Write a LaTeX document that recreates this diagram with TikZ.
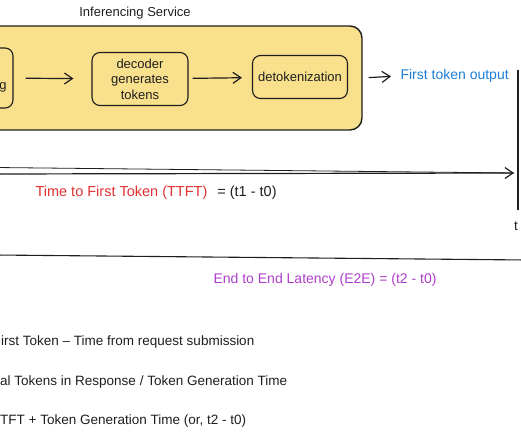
\documentclass[tikz,border=0pt]{standalone}
\usepackage{fontspec}
\setmainfont{Liberation Sans}
\usetikzlibrary{arrows.meta}
\definecolor{svcyellow}{HTML}{F9E08C}
\definecolor{ink}{HTML}{1E1E1E}
\definecolor{ttftred}{HTML}{E03131}
\definecolor{outblue}{HTML}{1C7ED6}
\definecolor{etepurple}{HTML}{AE3EC9}
\begin{document}
\begin{tikzpicture}[x=1pt,y=-1pt,
    >={Straight Barb[length=8pt,width=11pt]},
    every node/.style={font=\fontsize{13}{15.5}\selectfont, text=ink},
    service/.style={draw=ink, line width=1.4pt, fill=svcyellow, rounded corners=12pt},
    stage/.style={draw=ink, line width=1.1pt, rounded corners=8pt, align=center},
    flow/.style={->, draw=ink, line width=1.2pt},
    rule/.style={draw=ink, line width=1.1pt},
    big/.style={font=\fontsize{14}{16}\selectfont},
    note/.style={anchor=west, inner sep=0pt, font=\fontsize{13.5}{16}\selectfont}]
  \useasboundingbox (0,0) rectangle (521,435);
  % inferencing service
  \node[service, minimum width=382pt, minimum height=104pt] (svc) at (171,78) {};
  \node (svctitle) at (135,13) {Inferencing Service};
  \node[stage, minimum width=53pt, minimum height=60pt, align=right, text width=40pt] (tok) at (-13.5,78) {\strut\\ g};
  \node[stage, minimum width=96pt, minimum height=53pt] (dec) at (140,79) {decoder\\generates\\tokens};
  \node[stage, minimum width=95pt, minimum height=43pt] (detok) at (300,77) {detokenization};
  \node[big, anchor=west, text=outblue] (fto) at (397,76) {First token output};
  \path (tok) edge [flow, shorten <=12pt, shorten >=18pt] (dec);
  \path (dec) edge [flow, shorten <=4pt, shorten >=10pt] (detok);
  \path (svc.east) edge [flow, shorten <=6pt, shorten >=6pt] (fto.west);
  % timeline
  \coordinate (t1top) at (518,70);
  \coordinate (t1bot) at (518,210);
  \node[note] (t1) at (514,226) {t};
  \draw[rule] (t1top) -- (t1bot);
  \coordinate (t0a) at (-5,167.5);
  \coordinate (t0b) at (-5,174);
  \coordinate (t1a) at (514,173);
  \draw[rule, line width=0.8pt] (t0a) -- (t1a);
  \path (t0b) edge [flow] (t1a);
  \node[anchor=west, font=\fontsize{14.5}{17}\selectfont] (ttft) at (32,193) {\textcolor{ttftred}{Time to First Token (TTFT)}\hspace{10pt}= (t1 - t0)};
  \coordinate (e2ea) at (-5,255);
  \coordinate (e2eb) at (526,260);
  \draw[rule] (e2ea) -- (e2eb);
  \node[big, anchor=west, text=etepurple] (e2e) at (210,280) {End to End Latency (E2E) = (t2 - t0)};
  % definitions
  \node[note] (def1) at (1,342) {irst Token -- Time from request submission};
  \node[note] (def2) at (0,382) {al Tokens in Response / Token Generation Time};
  \node[note] (def3) at (0,421) {TFT + Token Generation Time (or, t2 - t0)};
\end{tikzpicture}
\end{document}
